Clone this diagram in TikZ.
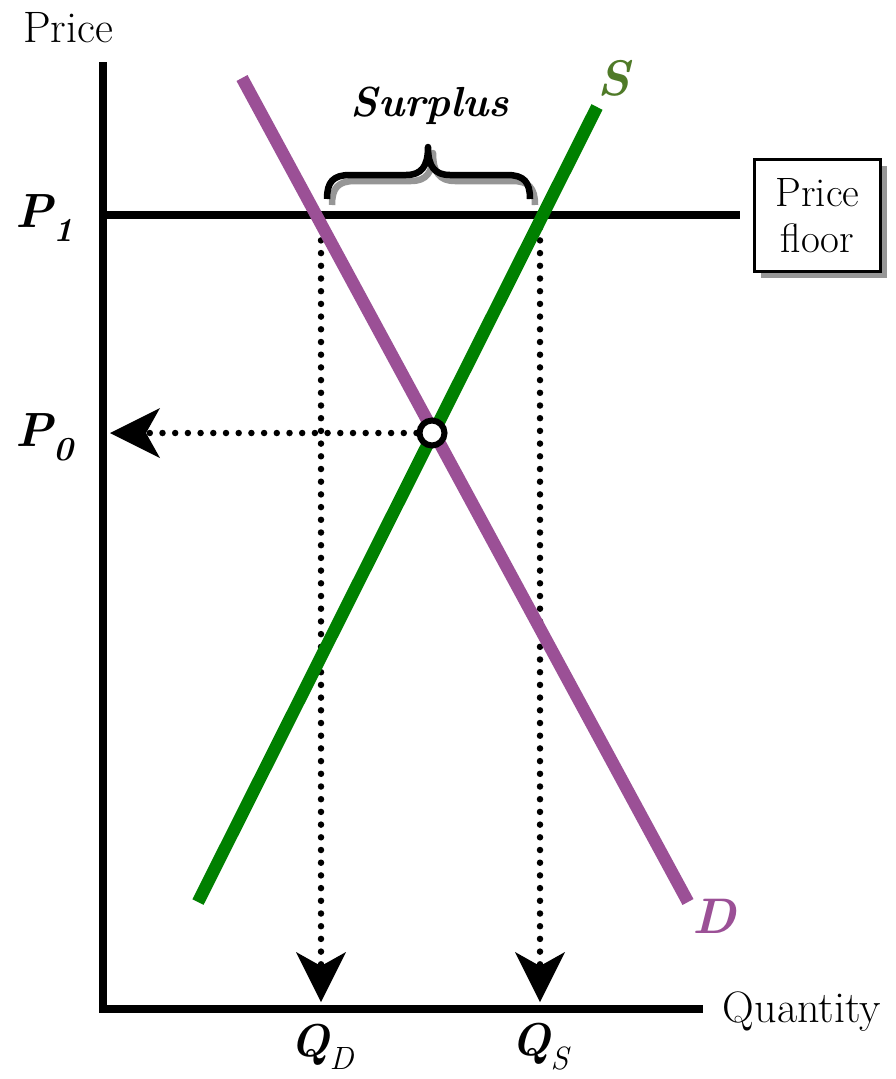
\documentclass[tikz,border=0pt]{standalone}
\usepackage{fontspec}
\usetikzlibrary{arrows.meta,shadows}
\definecolor{dpurple}{RGB}{155,80,150}
\definecolor{sgreen}{RGB}{0,128,0}
\definecolor{slabel}{RGB}{79,122,40}
\definecolor{shadowgray}{RGB}{150,150,150}
\begin{document}
\begin{tikzpicture}[x=1pt,y=1pt]
\tikzset{
 axisline/.style={line width=8pt, line join=miter},
 floorline/.style={line width=8pt},
 curveline/.style={line width=12.5pt},
 dotline/.style={line width=6.5pt, dash pattern=on 0pt off 12.7pt, line cap=round},
 bigtip/.style={-{Stealth[length=50pt,width=50pt,inset=14pt,line width=0pt]}},
 lbl/.style={font=\fontsize{44}{48}\selectfont, inner sep=0pt},
 bilbl/.style={font=\fontsize{48}{52}\selectfont\bfseries\itshape, inner sep=0pt},
 bracestyle/.style={line width=6.5pt, line join=round},
 floorbox/.style={draw, line width=3pt, fill=white, minimum width=126pt, minimum height=112pt, align=center, inner sep=0pt, font=\fontsize{41}{46}\selectfont, drop shadow={shadow xshift=6pt, shadow yshift=-6pt, fill=shadowgray, opacity=1}},
}
\useasboundingbox (0,0) rectangle (895,-1079);
% coordinates
\coordinate (ytop) at (103,-62);
\coordinate (orig) at (103,-1009);
\coordinate (xend) at (703,-1009);
\coordinate (fl0) at (105,-215);
\coordinate (fl1) at (740,-215);
\coordinate (d0) at (242,-78);
\coordinate (d1) at (688,-902);
\coordinate (s0) at (198,-902);
\coordinate (s1) at (597,-107);
\coordinate (qdtop) at (321,-215);
\coordinate (qdbot) at (321,-1002);
\coordinate (qstop) at (540,-215);
\coordinate (qsbot) at (540,-1002);
\coordinate (p0end) at (110,-433);
% axes
\draw[axisline] (ytop) -- (orig) -- (xend);
% price floor
\draw[floorline] (fl0) -- (fl1);
% dotted guides
\draw[dotline, bigtip] (qdtop) -- (qdbot);
\draw[dotline, bigtip] (qstop) -- (qsbot);
% curves
\draw[curveline, dpurple] (d0) -- (d1);
\draw[curveline, sgreen] (s0) -- (s1);
% equilibrium
\node[circle, draw, line width=6pt, fill=white, minimum size=25pt, inner sep=0pt] (eq) at (432,-433) {};
\draw[dotline, bigtip] (eq.west) -- (p0end);
% brace (shadow, then brace)
\foreach \dx/\dy/\col in {5/-6/shadowgray, 0/0/black}{
 \draw[bracestyle, \col, shift={(\dx,\dy)}]
  (327,-199) .. controls (327,-182) and (333,-175) .. (350,-175)
  -- (406,-175) .. controls (421,-175) and (428,-167) .. (428,-147)
  .. controls (428,-167) and (435,-175) .. (450,-175)
  -- (507,-175) .. controls (524,-175) and (530,-182) .. (530,-199);
}
% box
\node[floorbox] (box) at (817.5,-215.5) {Price\\floor};
% labels
\node[lbl] (price) at (68,-28) {Price};
\node[lbl] (qty) at (802,-1012) {Quantity};
\node[bilbl, font=\fontsize{42}{46}\selectfont\bfseries\itshape] (surplus) at (430,-106) {Surplus};
\node[bilbl] (p1) at (45,-218) {P\textsubscript{1}};
\node[bilbl] (p0) at (45,-437) {P\textsubscript{0}};
\node[bilbl, font=\fontsize{46}{50}\selectfont\bfseries\itshape] (qd) at (322,-1047) {Q\textsubscript{\mdseries D}};
\node[bilbl, font=\fontsize{46}{50}\selectfont\bfseries\itshape] (qs) at (540,-1047) {Q\textsubscript{\mdseries S}};
\node[bilbl, font=\fontsize{50}{54}\selectfont\bfseries\itshape, slabel] (slab) at (614,-78) {S};
\node[bilbl, font=\fontsize{50}{54}\selectfont\bfseries\itshape, dpurple] (dlab) at (714,-916) {D};
\end{tikzpicture}
\end{document}
